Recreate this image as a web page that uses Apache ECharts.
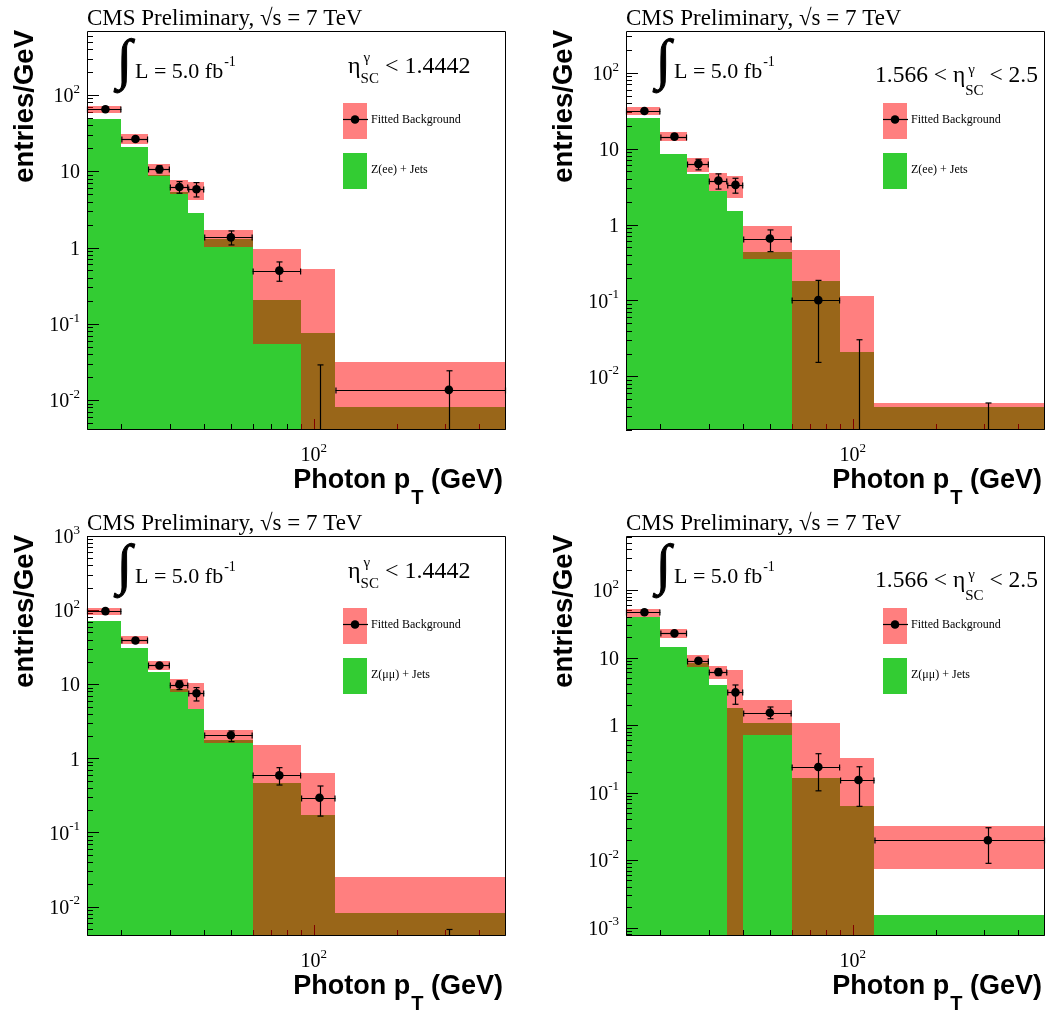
<!DOCTYPE html>
<html><head><meta charset="utf-8">
<script src="https://cdn.jsdelivr.net/npm/echarts@6/dist/echarts.min.js"></script>
<style>html,body{margin:0;padding:0;background:#fff}#c{width:1050px;height:1010px}</style>
</head><body><div id="c"></div><script>
// ---------------- data ----------------
const binEdges   = [15, 20, 25, 30, 35, 40, 60, 90, 120, 500];
const binCenters = [17.5, 22.5, 27.5, 32.5, 37.5, 50, 75, 105, 310];
const xMajorTickValues = [100];
const xMinorTickValues = [20, 30, 40, 50, 60, 70, 80, 90, 200, 300, 400];

// Z(ee), barrel  |eta| < 1.4442
const eeEBZjets  = [48.4, 20.8, 8.8, 5.4, 2.82, 1.3, 0.204, 0.076, 0.0082];
const eeEBBandLo = [57.6, 22.8, 8.75, 5.0, 4.2, 1.03, 0.055, null, null];
const eeEBBandHi = [71.8, 30.5, 12.5, 7.62, 7.24, 1.70, 0.96, 0.525, 0.0317];
const eeEBFit    = [64.9, 26.5, 10.6, 6.22, 5.8, 1.36, 0.498, null, 0.0136];
const eeEBErrLo  = [61.0, 25.0, 9.5, 5.15, 4.6, 1.08, 0.361, null, null];
const eeEBErrHi  = [69.0, 28.2, 11.8, 7.31, 7.1, 1.65, 0.647, 0.0289, 0.0242];
const eeEBYMajor = [0.01, 0.1, 1, 10, 100];

// Z(ee), endcap 1.566 < |eta| < 2.5
const eeEEZjets  = [25.1, 8.5, 4.69, 2.8, 1.53, 0.44, 0.182, 0.0211, 0.004];
const eeEEBandLo = [27.7, 12.5, 4.93, 2.8, 2.27, 0.354, null, null, null];
const eeEEBandHi = [35.4, 16.6, 7.55, 4.79, 4.41, 0.97, 0.465, 0.115, 0.00447];
const eeEEFit    = [31.3, 14.4, 6.3, 3.79, 3.33, 0.655, 0.101, null, null];
const eeEEErrLo  = [29.5, 13.4, 5.25, 2.93, 2.59, 0.44, 0.0153, null, null];
const eeEEErrHi  = [33.0, 15.6, 7.24, 4.65, 4.07, 0.85, 0.184, 0.0304, 0.00447];
const eeEEYMajor = [0.01, 0.1, 1, 10, 100];

// Z(mumu), barrel
const mmEBZjets  = [71.7, 30.6, 14.4, 8.5, 4.6, 1.75, 0.459, 0.17, 0.0081];
const mmEBBandLo = [85.5, 34.4, 15.6, 7.96, 4.59, 1.61, null, null, null];
const mmEBBandHi = [107, 44.2, 20.5, 11.7, 10.5, 2.44, 1.51, 0.641, 0.0247];
const mmEBFit    = [96.9, 38.9, 17.9, 9.9, 7.55, 2.05, 0.589, 0.294, null];
const mmEBErrLo  = [92.0, 36.5, 16.8, 8.47, 5.94, 1.68, 0.436, 0.166, null];
const mmEBErrHi  = [102, 41.5, 19.2, 11.1, 9.0, 2.34, 0.748, 0.423, 0.0049];
const mmEBYMajor = [0.01, 0.1, 1, 10, 100, 1000];

// Z(mumu), endcap
const mmEEZjets  = [40.0, 14.2, 8.3, 3.87, 1.8, 1.08, 0.164, 0.0625, 0.00151];
const mmEEBandLo = [40.2, 19.6, 7.31, 4.85, null, 0.718, null, null, 0.00743];
const mmEEBandHi = [52.8, 26.7, 10.9, 7.49, 6.53, 2.34, 1.06, 0.321, 0.0319];
const mmEEFit    = [46.8, 22.8, 8.98, 6.09, 3.05, 1.52, 0.239, 0.153, 0.0196];
const mmEEErrLo  = [44.0, 21.3, 8.3, 5.4, 2.03, 1.24, 0.106, 0.0625, 0.00894];
const mmEEErrHi  = [49.5, 24.4, 9.7, 6.8, 3.92, 1.85, 0.376, 0.241, 0.0301];
const mmEEYMajor = [0.001, 0.01, 0.1, 1, 10, 100];

// ---------------- layout / style ----------------
const SERIF = "'Liberation Serif','Times New Roman',serif";
const SANS  = "'Liberation Sans',Arial,sans-serif";
const GREEN = '#33cc33';
const HATCH = 'rgba(255,0,0,0.5)';
const W = 419;
const panels = [
  {left: 87,  top: 31,  h: 399, yMin: 0.00405, yMax: 690, zj: eeEBZjets, lo: eeEBBandLo, hi: eeEBBandHi, fit: eeEBFit, eLo: eeEBErrLo, eHi: eeEBErrHi, yMaj: eeEBYMajor, region: 'EB', zLabel: 'Z(ee) + Jets', legDx: 256},
  {left: 626, top: 31,  h: 399, yMin: 0.00197, yMax: 354, zj: eeEEZjets, lo: eeEEBandLo, hi: eeEEBandHi, fit: eeEEFit, eLo: eeEEErrLo, eHi: eeEEErrHi, yMaj: eeEEYMajor, region: 'EE', zLabel: 'Z(ee) + Jets', legDx: 257},
  {left: 87,  top: 536, h: 400, yMin: 0.004,   yMax: 1000, zj: mmEBZjets, lo: mmEBBandLo, hi: mmEBBandHi, fit: mmEBFit, eLo: mmEBErrLo, eHi: mmEBErrHi, yMaj: mmEBYMajor, region: 'EB', zLabel: 'Z(\u03bc\u03bc) + Jets', legDx: 256},
  {left: 626, top: 536, h: 400, yMin: 0.00075, yMax: 631, zj: mmEEZjets, lo: mmEEBandLo, hi: mmEEBandHi, fit: mmEEFit, eLo: mmEEErrLo, eHi: mmEEErrHi, yMaj: mmEEYMajor, region: 'EE', zLabel: 'Z(\u03bc\u03bc) + Jets', legDx: 257}
];

// ---------------- text helpers ----------------
const mctx = document.createElement('canvas').getContext('2d');
function fontStr(size, fam, weight) { return (weight || 'normal') + ' ' + size + 'px ' + fam; }
function metrics(text, font) { mctx.font = font; mctx.textBaseline = 'middle'; mctx.textAlign = 'left'; return mctx.measureText(text); }
function midToBase(font) { return metrics('H', font).actualBoundingBoxDescent; }
function textEl(x, baseline, text, size, fam, weight) {
  const font = fontStr(size, fam, weight);
  return {type: 'text', z: 100, silent: true, x: x, y: baseline - midToBase(font),
    style: {text: text, font: font, fill: '#000', textAlign: 'left', textVerticalAlign: 'middle', align: 'left', verticalAlign: 'middle'}};
}
function runs(x, baseline, parts, anchor) {
  const widths = parts.map(p => metrics(p.t, fontStr(p.s, p.f || SERIF, p.w)).width);
  let total = 0; parts.forEach((p, i) => { total += (p.gap || 0) + (p.stay ? 0 : widths[i]); });
  let cx = anchor === 'right' ? x - total : x;
  const out = [];
  parts.forEach((p, i) => {
    cx += p.gap || 0;
    out.push(textEl(cx + (p.dx || 0), baseline + (p.dy || 0), p.t, p.s, p.f || SERIF, p.w));
    if (!p.stay) cx += widths[i];
  });
  return out;
}
function integralEl(left, top, height) {
  const m0 = metrics('\u222b', fontStr(100, SERIF));
  const s = 100 * height / (m0.actualBoundingBoxAscent + m0.actualBoundingBoxDescent);
  const font = fontStr(s, SERIF);
  const m = metrics('\u222b', font);
  return {type: 'text', z: 100, silent: true, x: left + m.actualBoundingBoxLeft, y: top + m.actualBoundingBoxAscent,
    style: {text: '\u222b', font: font, fill: '#000', stroke: '#000', lineWidth: 1, textAlign: 'left', textVerticalAlign: 'middle', align: 'left', verticalAlign: 'middle'}};
}

function powLabel(v) {
  const e = Math.log10(v), r = Math.round(e);
  if (Math.abs(e - r) > 1e-6) return '';
  if (r === 0) return '{b|1}';
  if (r === 1) return '{b|10}';
  return '{b|10}{s|' + r + '}';
}
const RICH = {
  b: {fontFamily: SERIF, fontSize: 20, color: '#000', lineHeight: 24, verticalAlign: 'bottom'},
  s: {fontFamily: SERIF, fontSize: 13, color: '#000', lineHeight: 11, verticalAlign: 'top'}
};

// ---------------- render functions ----------------
function clip(r, cs) { return echarts.graphic.clipRectByRect(r, {x: cs.x, y: cs.y, width: cs.width, height: cs.height}); }
function boxRect(xa, xb, yt, yb, cs) {
  const x0 = Math.round(xa), x1 = Math.round(xb), y0 = Math.round(yt), y1 = Math.round(yb);
  return clip({x: x0, y: y0, width: x1 - x0, height: y1 - y0}, cs);
}
function histRender(params, api) {
  const cs = params.coordSys;
  const x0 = api.value(0), x1 = api.value(1), y = api.value(2);
  if (!(y > 0)) return;
  const a = api.coord([x0, y]), b = api.coord([x1, y]);
  const r = boxRect(a[0], b[0], a[1], cs.y + cs.height, cs);
  if (!r) return;
  return {type: 'rect', shape: r, style: {fill: GREEN}};
}
function bandRender(params, api) {
  const cs = params.coordSys;
  const x0 = api.value(0), x1 = api.value(1), lo = api.value(2), hi = api.value(3);
  if (!(hi > 0)) return;
  const a = api.coord([x0, hi]), b = api.coord([x1, hi]);
  const bottom = lo > 0 ? api.coord([x0, lo])[1] : cs.y + cs.height;
  const r = boxRect(a[0], b[0], a[1], bottom, cs);
  if (!r) return;
  return {type: 'rect', shape: r, style: {fill: HATCH}};
}
function pointRender(params, api) {
  const cs = params.coordSys;
  const x = api.value(0), v = api.value(1), el = api.value(2), eh = api.value(3), x0 = api.value(4), x1 = api.value(5);
  const bottom = cs.y + cs.height;
  const ch = [];
  const ls = {stroke: '#000', lineWidth: 1.2};
  if (eh > 0) {
    const px = Math.round(api.coord([x, eh])[0]) + 0.5;
    const yt = api.coord([x, eh])[1];
    const yb = el > 0 ? api.coord([x, el])[1] : bottom;
    ch.push({type: 'line', shape: {x1: px, y1: yt, x2: px, y2: yb}, style: ls});
    ch.push({type: 'line', shape: {x1: px - 3, y1: yt, x2: px + 3, y2: yt}, style: ls});
    if (el > 0) ch.push({type: 'line', shape: {x1: px - 3, y1: yb, x2: px + 3, y2: yb}, style: ls});
  }
  if (v > 0) {
    const c = api.coord([x, v]);
    const xa = api.coord([x0, v])[0], xb = api.coord([x1, v])[0];
    const py = Math.round(c[1]) + 0.5;
    ch.push({type: 'line', shape: {x1: xa, y1: py, x2: xb, y2: py}, style: ls});
    ch.push({type: 'line', shape: {x1: xa + 0.5, y1: py - 3, x2: xa + 0.5, y2: py + 3}, style: ls});
    ch.push({type: 'line', shape: {x1: xb - 0.5, y1: py - 3, x2: xb - 0.5, y2: py + 3}, style: ls});
    ch.push({type: 'circle', shape: {cx: c[0], cy: c[1], r: 4.3}, style: {fill: '#000'}});
  }
  return {type: 'group', children: ch};
}
function makeTickRender(p) {
  return function (params, api) {
    const cs = params.coordSys;
    const v = api.value(0), axis = api.value(1), major = api.value(2);
    const st = {stroke: '#000', lineWidth: 1};
    if (axis === 0) {
      const px = Math.round(api.coord([v, p.yMax])[0]) + 0.5;
      const b = cs.y + cs.height;
      return {type: 'line', shape: {x1: px, y1: b, x2: px, y2: b - (major ? 11 : 6)}, style: st};
    }
    const py = Math.round(api.coord([binEdges[0], v])[1]) + 0.5;
    return {type: 'line', shape: {x1: cs.x, y1: py, x2: cs.x + (major ? 12 : 6), y2: py}, style: st};
  };
}
function yTickData(p) {
  const out = [];
  p.yMaj.forEach(m => {
    for (let k = 1; k <= 9; k++) {
      const v = k * m;
      if (v >= p.yMin * 1.0001 && v <= p.yMax * 1.0001) out.push([v, 1, k === 1 ? 1 : 0]);
      const w = k * m / 10;
      if (m === p.yMaj[0] && k > 1 && w >= p.yMin * 1.0001) out.push([w, 1, 0]);
    }
  });
  return out;
}

// ---------------- build option ----------------
const grids = [], xAxes = [], yAxes = [], series = [], graphics = [];
panels.forEach((p, i) => {
  grids.push({left: p.left, top: p.top, width: W, height: p.h, containLabel: false});
  xAxes.push({type: 'log', logBase: 10, gridIndex: i, min: binEdges[0], max: binEdges[binEdges.length - 1],
    axisLine: {show: false}, axisTick: {show: false}, splitLine: {show: false}, minorTick: {show: false}, minorSplitLine: {show: false},
    axisLabel: {margin: 12, formatter: powLabel, rich: RICH, showMinLabel: true, showMaxLabel: true, hideOverlap: false}});
  yAxes.push({type: 'log', logBase: 10, gridIndex: i, min: p.yMin, max: p.yMax,
    axisLine: {show: false}, axisTick: {show: false}, splitLine: {show: false}, minorTick: {show: false}, minorSplitLine: {show: false},
    axisLabel: {margin: 7, formatter: powLabel, rich: RICH, showMinLabel: true, showMaxLabel: true, hideOverlap: false}});

  const histData = p.zj.map((v, k) => [binEdges[k], binEdges[k + 1], v]);
  const bandData = p.hi.map((v, k) => [binEdges[k], binEdges[k + 1], p.lo[k], v]);
  const ptData = p.fit.map((v, k) => [binCenters[k], v, p.eLo[k], p.eHi[k], binEdges[k], binEdges[k + 1]]);
  const tickData = xMinorTickValues.map(v => [v, 0, 0]).concat(xMajorTickValues.map(v => [v, 0, 1]), yTickData(p));
  const common = {type: 'custom', xAxisIndex: i, yAxisIndex: i, silent: true, animation: false};
  series.push(Object.assign({}, common, {name: 'Z+jets ' + i, z: 1, data: histData, encode: {x: [0, 1], y: 2}, renderItem: histRender}));
  series.push(Object.assign({}, common, {name: 'ticks ' + i, z: 2, data: tickData, encode: {x: 0, y: 0}, renderItem: makeTickRender(p)}));
  series.push(Object.assign({}, common, {name: 'band ' + i, z: 3, data: bandData, encode: {x: [0, 1], y: [2, 3]}, renderItem: bandRender}));
  series.push(Object.assign({}, common, {name: 'fit ' + i, z: 4, data: ptData, encode: {x: 0, y: 1}, renderItem: pointRender}));

  const ox = p.left, oy = p.top;
  // frame
  graphics.push({type: 'rect', z: 90, silent: true, shape: {x: ox + 0.5, y: oy + 0.5, width: W - 1, height: p.h - 1},
    style: {fill: null, stroke: '#000', lineWidth: 1}});
  // title
  graphics.push(...runs(ox, oy - 6, [{t: 'CMS Preliminary, \u221as = 7 TeV', s: 23}]));
  // y title (rotated)
  const yf = fontStr(27.5, SANS, 'bold');
  graphics.push({type: 'text', z: 100, silent: true, x: ox - 54 - midToBase(yf), y: oy - 1, rotation: Math.PI / 2,
    style: {text: 'entries/GeV', font: yf, fill: '#000', textAlign: 'right', textVerticalAlign: 'middle', align: 'right', verticalAlign: 'middle'}});
  // x title
  graphics.push(...runs(ox + W - 3, oy + p.h + 58, [
    {t: 'Photon p', s: 27, f: SANS, w: 'bold'},
    {t: 'T', s: 20, f: SANS, w: 'bold', dy: 16, gap: 1},
    {t: ' (GeV)', s: 27, f: SANS, w: 'bold'}], 'right'));
  // integral luminosity
  graphics.push(integralEl(ox + 26, oy + 7, 55));
  graphics.push(...runs(ox + 48, oy + 47, [{t: 'L = 5.0 fb', s: 22}, {t: '-1', s: 14, dy: -12, gap: 1}]));
  // eta region
  if (p.region === 'EB') {
    graphics.push(...runs(ox + 261, oy + 42, [
      {t: '\u03b7', s: 24}, {t: '\u03b3', s: 15, dy: -11.5, dx: 3, stay: true},
      {t: 'SC', s: 15, dy: 10}, {t: ' < 1.4442', s: 24}]));
  } else {
    graphics.push(...runs(ox + 249, oy + 51, [
      {t: '1.566 < ', s: 23.5}, {t: '\u03b7', s: 23.5}, {t: '\u03b3', s: 15, dy: -8.5, dx: 3, stay: true},
      {t: 'SC', s: 15, dy: 12.5}, {t: ' < 2.5', s: 23.5}]));
  }
  // legend
  const lx = ox + p.legDx;
  graphics.push({type: 'rect', z: 95, silent: true, shape: {x: lx, y: oy + 72, width: 24, height: 36}, style: {fill: HATCH}});
  graphics.push({type: 'line', z: 96, silent: true, shape: {x1: lx, y1: oy + 88.5, x2: lx + 25, y2: oy + 88.5}, style: {stroke: '#000', lineWidth: 1.2}});
  graphics.push({type: 'circle', z: 97, silent: true, shape: {cx: lx + 12, cy: oy + 88.5, r: 4.3}, style: {fill: '#000'}});
  graphics.push({type: 'rect', z: 95, silent: true, shape: {x: lx, y: oy + 122, width: 24, height: 36}, style: {fill: GREEN}});
  graphics.push(...runs(lx + 28, oy + 92, [{t: 'Fitted Background', s: 12}]));
  graphics.push(...runs(lx + 28, oy + 141.5, [{t: p.zLabel, s: 12}]));
});

const chart = echarts.init(document.getElementById('c'), null, {renderer: 'canvas'});
chart.setOption({
  animation: false,
  backgroundColor: '#fff',
  grid: grids, xAxis: xAxes, yAxis: yAxes, series: series,
  graphic: {elements: graphics}
});
</script></body></html>
